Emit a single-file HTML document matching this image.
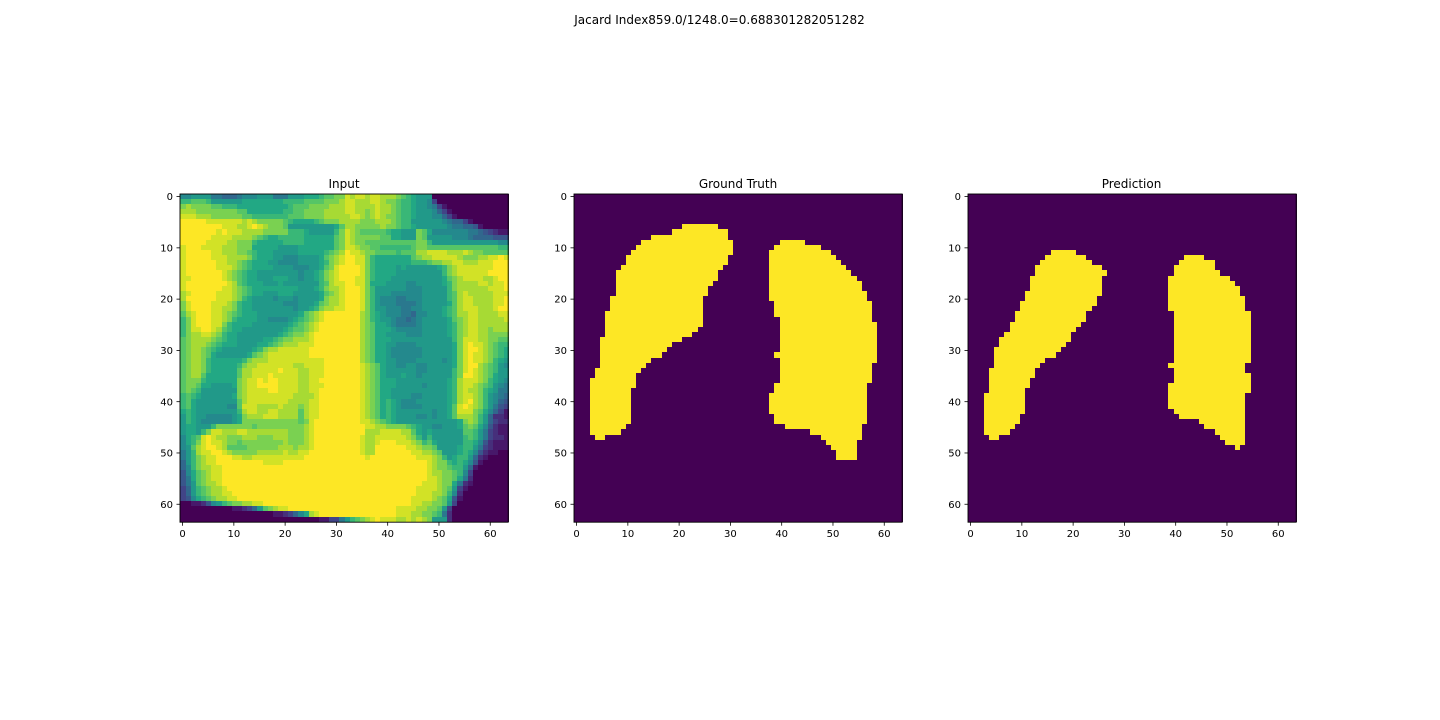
<!DOCTYPE html>
<html lang="en">
<head>
<meta charset="utf-8">
<title>Jacard Index chart</title>
<style>
html,body{margin:0;padding:0;background:#fff;width:1440px;height:720px;overflow:hidden}
svg{display:block}
text{font-family:"DejaVu Sans","Liberation Sans",sans-serif;fill:#000}
</style>
</head>
<body>
<svg id="figure" width="1440" height="720" viewBox="0 0 1440 720" xmlns="http://www.w3.org/2000/svg">
  <rect x="0" y="0" width="1440" height="720" fill="#ffffff"/>
  <text x="719.5" y="24" font-size="12" text-anchor="middle">Jacard Index859.0/1248.0=0.688301282051282</text>
  <text x="344" y="188" font-size="12" text-anchor="middle">Input</text>
  <text x="738" y="188" font-size="12" text-anchor="middle">Ground Truth</text>
  <text x="1131.5" y="188" font-size="12" text-anchor="middle">Prediction</text>
  <g id="panel-input"></g>
  <g id="panel-truth"></g>
  <g id="panel-pred"></g>
</svg>
<script>
var xTickValues = [0, 10, 20, 30, 40, 50, 60];
var yTickValues = [0, 10, 20, 30, 40, 50, 60];

// Input image intensities, one hex digit per cell (0 = low, f = high)
var inputRows = [
"77888866 55567778 88666888 999abbcc edeedeed ddcba988 80000000 00000000",
"aabbba88 88889999 9999aaaa bbbbcccd eedddeed ccbaa988 73000000 00000000",
"cdccccbb aaa99999 99999abb bccccddd eedddded dcbaa988 76310000 00000000",
"dddccccc cccbb999 9999aabb ccccdddd eeddcded dcbaa988 87531000 00000000",
"eeedddcc ccccbbaa aaaaabbb ccccdddd deedcded ccbaa988 87753100 00000000",
"fffffeee eeeededc ccccba99 99abcccd dddcccdd dcbaa888 88876553 10000000",
"ffffffff eeeddefe dcccb888 8888889b ddcccccd ccbaa988 88887665 54100000",
"fffffffe feeedddd cccccaaa 988888ac edcbbbbb a99888cb 97777777 66543211",
"ffffffee eeddddcb a99aaaaa 999999bc edcccccb b99888cb 88888777 65555444",
"fffffeee eddccca9 9999aaaa 999999bc edccbbbb bbbbbbcc a8888888 88888877",
"efffeeee dddccc99 99988889 999999bc eedccbba aaaaabcc bbbbbbbb bbbbbbaa",
"efffffee dddccba9 99888889 9999abcd feedccbb bbabbbdd eeeeddde dccbbbbb",
"efffffee eddddca9 99887778 8889bcde ffeeca99 99999bcd deeeeedc ccddeefe",
"effffffe eddcba99 98877778 8889acde ffeeca99 99999aaa bccddeed ddeeefff",
"effffffe eedcba99 99888877 7889bcef fffeca99 99898888 889acdee eeeeefff",
"efffffff edcba998 88888887 889acdef fffeca99 99888888 888acdee eeeeffff",
"eeffffff edcba998 88999887 889acdef ffeeca99 98888888 8889bcde eeeddeff",
"efffffff fedba999 88898888 888abdee ffeec999 88887788 8889acdd ddeedeef",
"efffffff eedcba99 99999998 889acdde fffeca88 88887778 8888acdd ddddeeef",
"defffffe eedcba99 88899988 8889bcde fffeca88 87777778 8888abde dddddeee",
"dffffffe eedca988 88788878 8889cdde fffeca87 77667778 8888abde eddddeef",
"ceffffee edca9988 88887778 889bcdde fffeca87 77666678 88889bde eddddeef",
"ceffffee ddca9988 88888878 89acddee fffeca88 77766778 8889abde eedddeff",
"bdefffee dcba9998 88888889 bcdeffff fffdca98 77766577 8889abdd eeddddee",
"acefffee dca99998 8777789a bcdeffff fffdca98 87665678 88889bcd eeddddde",
"acefffee ca999988 888889ab cdefffff fffdcb99 87666678 88889acd eedddddd",
"aceeffed ba998888 88889abb cdefffff fffdcb99 98777778 88889acd eeddcddd",
"acddeedc a9988888 8889abcc deffffff fffdcb99 88887778 88889acd eeddcccc",
"bcddddcb a9988888 99abccdd deffffff fffdcb99 98888888 88888ace eeddccbb",
"bcdddcba 99988889 9abcddde eeffffff fffdcb99 88777788 888889ce feedcbaa",
"bcddcba9 8888889a cddeeeee efffffff fffdcb99 87777778 888889ce ffedcba9",
"bcddcb98 888889bc deeeeeee efffffff fffdcb99 87777778 888889ce feedcba9",
"bcddca99 9999acdd deeeeeee eeeeffff fffdcb99 88777788 888789ce feedca98",
"bcddca99 999acdde eeeeeedd eeeeffff fffedcb9 88778877 888889ce ffdcba87",
"bcddca99 999bddee eeefeeed deeeffff fffedcb9 88888877 88888ace fedcba88",
"bcddb999 999bddee efeeeeed deeeffff fffedcb9 88898878 88888acf fedcb988",
"bccca999 999cdeef effeeeed deefffff fffedcb9 99888888 88889ade eedca987",
"bccb9988 889cdeef fffeeeed deeeffff fffedcb9 99888887 88889ade edcba876",
"bcba8888 888cdeee effeeeed deefffff fffedcb9 98888888 88889ade ddca9866",
"aba98888 889cdeee eeeeeedd ddefffff fffedcb9 98888778 88889ade edca8765",
"ab988888 888bdeee eeeeeddd deefffff fffedcb9 a9877788 88889ade fdca8754",
"ab988888 877beeed dddedddc deefffff fffedcb9 a9877778 88889bef edca8643",
"9a988888 888adeed deeddddb deefffff fffedcb9 a9888888 87889bee ecb97531",
"8a988777 7789cddd eeeddddb deefffff fffedcb9 a9888877 87889bdd dca85221",
"8a987777 7789cccc cccccccb ceffffff fffeedcb a9888888 8888889c dca85322",
"899888ac ccccccbc cccccccc deffffff ffffeedd ccccba98 8778889b cb974211",
"8998acee dddeeddd dddddccc deffffff ffffddde eeeddb98 9888888b ba863211",
"79abefed dcccdddc ccdddccc deffffff fffeddee eeeedca8 a888888a ba863221",
"79acefee dccbcccc ccccdccc deffffff fffeddef ffeeedca b988888a a9742111",
"78bdeffe dbbbbccc cccdddcd deffffff fffeddff ffffeedc cb88889a a8632111",
"68adeeff edcccccd ddddedde efffffff fffeddff fffffeed dcb8889a 97421100",
"68acdeef ffeeddee eeeeeeee ffffffff ffffefff ffffffee edca89aa 85210000",
"58acdeef ffffffff eeeeffff ffffffff ffffffff ffffffff edcca9a9 74100000",
"57acddee ffffffff ffffffff ffffffff ffffffff ffffffff edccbaa8 51000000",
"479bcdee ffffffff ffffffff ffffffff ffffffff ffffffff eddccba7 30000000",
"469bcdee ffffffff ffffffff ffffffff ffffffff ffffffff eedccb96 20000000",
"468bcdde ffffffff ffffffff ffffffff ffffffff fffffffe eedcc962 10000000",
"358abcdd efffffff ffffffff ffffffff ffffffff ffffffee eedcb831 00000000",
"358abcdd eeffffff ffffffff ffffffff ffffffff ffffffee eddca720 00000000",
"3479abcd deefffff ffffffff ffffffff ffffffff fffffeee edcb9410 00000000",
"00112478 abccddee ffffffff ffffffff ffffffff fffffeed dccb8300 00000000",
"00000000 00112358 bcdeefff ffffffff ffffffff ffeeeedd ccb83000 00000000",
"00000000 00000000 00112357 9defffff ffffffff ffeeeddc cba62000 00000000",
"00000000 00000000 00000000 00011336 8abcdefe eeddeded c8882000 00000000"
];

// Lung masks: [row, first column, column after last]
var truthLeftLung = [
[6,21,28],[7,19,30],[8,15,30],[9,13,31],[10,12,31],[11,11,31],[12,10,30],[13,10,30],[14,9,29],[15,8,28],
[16,8,28],[17,8,27],[18,8,26],[19,8,26],[20,7,25],[21,7,25],[22,7,25],[23,6,25],[24,6,25],[25,6,25],
[26,6,24],[27,6,23],[28,5,21],[29,5,19],[30,5,18],[31,5,17],[32,5,15],[33,5,14],[34,4,13],[35,4,12],
[36,3,12],[37,3,12],[38,3,11],[39,3,11],[40,3,11],[41,3,11],[42,3,11],[43,3,11],[44,3,11],[45,3,10],
[46,3,9],[47,4,6]
];
var truthRightLung = [
[9,40,45],[10,39,48],[11,38,50],[12,38,51],[13,38,52],[14,38,53],[15,38,54],[16,38,55],[17,38,56],[18,38,56],
[19,38,57],[20,38,57],[21,39,58],[22,39,58],[23,39,58],[24,40,58],[25,40,59],[26,40,59],[27,40,59],[28,40,59],
[29,40,59],[30,40,59],[31,39,59],[32,40,59],[33,40,58],[34,40,58],[35,40,58],[36,40,58],[37,39,57],[38,39,57],
[39,38,57],[40,38,57],[41,38,57],[42,38,57],[43,39,57],[44,39,57],[45,41,56],[46,46,56],[47,48,56],[48,49,55],
[49,50,55],[50,51,55],[51,51,55]
];
var predLeftLung = [
[11,16,21],[12,15,23],[13,14,24],[14,13,26],[15,13,27],[16,12,26],[17,12,26],[18,12,26],[19,11,26],[20,11,25],
[21,10,25],[22,10,24],[23,9,23],[24,9,23],[25,8,22],[26,8,21],[27,7,20],[28,6,20],[29,6,19],[30,5,18],
[31,5,17],[32,5,15],[33,5,14],[34,4,13],[35,4,13],[36,4,12],[37,4,12],[38,4,11],[39,3,11],[40,3,11],
[41,3,11],[42,3,11],[43,3,10],[44,3,10],[45,3,9],[46,3,8],[47,4,6]
];
var predRightLung = [
[12,42,46],[13,41,48],[14,40,48],[15,40,49],[16,39,51],[17,39,52],[18,39,53],[19,39,53],[20,39,54],[21,39,54],
[22,39,54],[23,40,55],[24,40,55],[25,40,55],[26,40,55],[27,40,55],[28,40,55],[29,40,55],[30,40,55],[31,40,55],
[32,40,55],[33,39,54],[34,40,54],[35,40,55],[36,40,55],[37,39,55],[38,39,55],[39,39,54],[40,39,54],[41,39,54],
[42,40,54],[43,41,54],[44,45,54],[45,46,54],[46,48,54],[47,49,54],[48,50,54],[49,52,53]
];

var NS = 'http://www.w3.org/2000/svg';
var GRID = 64;
var AX_W = 328.2;
var AX_TOP = 194;
var VIRIDIS = ['#440154','#482475','#414487','#355f8d','#2a788e','#21918c','#22a884','#44bf70','#7ad151','#bddf26','#fde725'];
var MASK_BG = '#440154';
var MASK_FG = '#fde725';

function hexToRgb(h){return [parseInt(h.substr(1,2),16),parseInt(h.substr(3,2),16),parseInt(h.substr(5,2),16)];}
function viridis(t){
  var p = Math.max(0, Math.min(1, t)) * (VIRIDIS.length - 1);
  var i = Math.min(Math.floor(p), VIRIDIS.length - 2);
  var f = p - i;
  var a = hexToRgb(VIRIDIS[i]);
  var b = hexToRgb(VIRIDIS[i + 1]);
  return 'rgb(' + Math.round(a[0] + (b[0] - a[0]) * f) + ',' + Math.round(a[1] + (b[1] - a[1]) * f) + ',' + Math.round(a[2] + (b[2] - a[2]) * f) + ')';
}
function makeX(left){ return function(v){ return left + (v + 0.5) * AX_W / GRID; }; }
function yScale(v){ return AX_TOP + (v + 0.5) * AX_W / GRID; }
function cellRect(parent, x, c0, c1, r0, r1, fill){
  var el = document.createElementNS(NS, 'rect');
  var xa = Math.ceil(x(c0 - 0.5));
  var xb = Math.ceil(x(c1 - 0.5));
  var ya = Math.floor(yScale(r0 - 0.5));
  var yb = Math.floor(yScale(r1 - 0.5));
  el.setAttribute('x', xa);
  el.setAttribute('y', ya);
  el.setAttribute('width', xb - xa);
  el.setAttribute('height', yb - ya);
  el.setAttribute('fill', fill);
  el.setAttribute('shape-rendering', 'crispEdges');
  parent.appendChild(el);
  return el;
}
function drawAxes(group, left){
  var x = makeX(left);
  var frame = document.createElementNS(NS, 'rect');
  
  
  frame.setAttribute('x', left);
  frame.setAttribute('y', AX_TOP);
  frame.setAttribute('width', AX_W);
  frame.setAttribute('height', AX_W);
  frame.setAttribute('fill', 'none');
  frame.setAttribute('stroke', '#000');
  frame.setAttribute('stroke-width', '0.9');
  group.appendChild(frame);
  var bottom = AX_TOP + AX_W;
  xTickValues.forEach(function(v){
    var t = document.createElementNS(NS, 'line');
    
    
    t.setAttribute('x1', x(v));
    t.setAttribute('x2', x(v));
    t.setAttribute('y1', bottom);
    t.setAttribute('y2', bottom + 3.5);
    t.setAttribute('stroke', '#000');
    t.setAttribute('stroke-width', '0.8');
    group.appendChild(t);
    var l = document.createElementNS(NS, 'text');
    
    
    l.setAttribute('x', x(v));
    l.setAttribute('y', bottom + 15);
    l.setAttribute('font-size', '10');
    l.setAttribute('text-anchor', 'middle');
    l.textContent = v;
    group.appendChild(l);
  });
  yTickValues.forEach(function(v){
    var t = document.createElementNS(NS, 'line');
    
    
    t.setAttribute('x1', left - 3.5);
    t.setAttribute('x2', left);
    t.setAttribute('y1', yScale(v));
    t.setAttribute('y2', yScale(v));
    t.setAttribute('stroke', '#000');
    t.setAttribute('stroke-width', '0.8');
    group.appendChild(t);
    var l = document.createElementNS(NS, 'text');
    
    
    l.setAttribute('x', left - 7);
    l.setAttribute('y', yScale(v) + 3.6);
    l.setAttribute('font-size', '10');
    l.setAttribute('text-anchor', 'end');
    l.textContent = v;
    group.appendChild(l);
  });
}
function drawInput(group, left){
  var x = makeX(left);
  inputRows.forEach(function(row, r){
    var clean = row.replace(/[^0-9a-f]/g, '');
    for (var c = 0; c < GRID; c++) {
      var ch = clean.charAt(c) || clean.charAt(clean.length - 1);
      var el = cellRect(group, x, c, c + 1, r, r + 1, viridis(parseInt(ch, 16) / 15));
      
      
    }
  });
}
function drawMask(group, left, lungs){
  var x = makeX(left);
  var bg = cellRect(group, x, 0, GRID, 0, GRID, MASK_BG);
  
  
  lungs.forEach(function(lung){
    lung.forEach(function(run){
      var el = cellRect(group, x, run[1], run[2], run[0], run[0] + 1, MASK_FG);
      
      
    });
  });
}
var gInput = document.getElementById('panel-input');
var gTruth = document.getElementById('panel-truth');
var gPred = document.getElementById('panel-pred');
drawInput(gInput, 180);
drawAxes(gInput, 180);
drawMask(gTruth, 574, [truthLeftLung, truthRightLung]);
drawAxes(gTruth, 574);
drawMask(gPred, 968, [predLeftLung, predRightLung]);
drawAxes(gPred, 968);
</script>
</body>
</html>
